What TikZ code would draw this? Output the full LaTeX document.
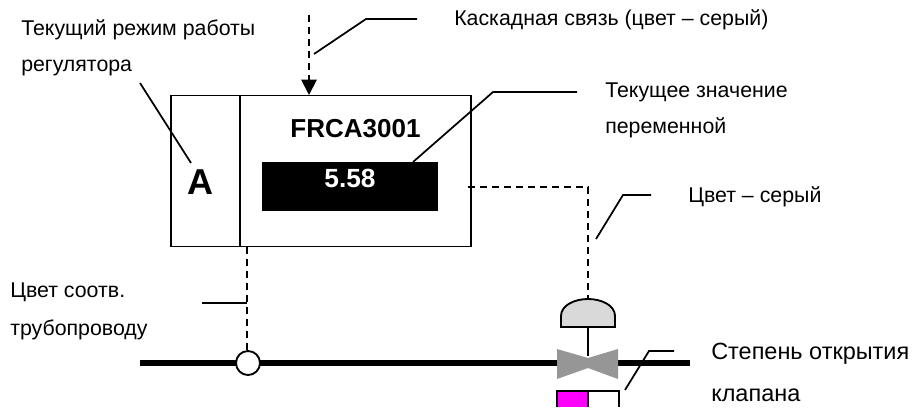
\documentclass[tikz,border=0pt]{standalone}
\usepackage{fontspec}
\setmainfont{Liberation Sans}
\usetikzlibrary{arrows.meta}
\definecolor{puremag}{RGB}{255,0,255}
\definecolor{domegrey}{RGB}{217,217,217}
\definecolor{valvegrey}{RGB}{150,150,150}
\tikzset{
  lbl/.style={inner sep=0pt,anchor=base west,font=\fontsize{16}{18}\selectfont,text=black},
  lblbig/.style={inner sep=0pt,anchor=base west,font=\fontsize{17.6}{20}\selectfont,text=black},
  leader/.style={draw=black,line width=1.3pt},
  dashline/.style={draw=black,line width=1.4pt,dash pattern=on 5pt off 4pt},
  frame/.style={draw=black,line width=1.4pt},
}
\begin{document}
\begin{tikzpicture}[x=0.75pt,y=-0.75pt]
\useasboundingbox (0,0) rectangle (916,407);
% pipe
\coordinate (pipeL) at (140,363);
\coordinate (pipeR) at (690,363);
\draw[line width=5.2pt] (pipeL) -- (pipeR);
% controller box
\node[frame,minimum width=225pt,minimum height=113.25pt,inner sep=0pt] (box) at (321,171) {};
\coordinate (divT) at (240,95.5); \coordinate (divB) at (240,246.5);
\draw[frame] (divT) -- (divB);
\node[fill=black,minimum width=132pt,minimum height=36.5pt,inner sep=0pt] (val) at (350,186.5) {};
\node[inner sep=0pt,text=white,font=\bfseries\fontsize{19.7}{22}\selectfont,anchor=base] (valtxt) at (350,187.5) {5.58};
\node[inner sep=0pt,font=\bfseries\fontsize{19.5}{22}\selectfont,anchor=base] (tag) at (355.5,137) {FRCA3001};
\node[inner sep=0pt,font=\bfseries\fontsize{27}{30}\selectfont,anchor=base] (modeA) at (200,194) {A};
% cascade
\coordinate (casTop) at (309,15);
\coordinate (casEnd) at (309,95);
\draw[dashline,-{Triangle[length=11.5pt,width=11.5pt]}] (casTop) -- (casEnd);
% process connection
\node[circle,draw=black,fill=white,line width=1.4pt,minimum size=18pt,inner sep=0pt] (tap) at (248,363) {};
\coordinate (tapTop) at (247,247);
\draw[dashline] (tapTop) -- (tap.north -| tapTop);
% actuator
\coordinate (outS) at (468,187);
\coordinate (outC) at (588,187);
\coordinate (domeTop) at (588,299);
\draw[dashline] (outS) -- (outC) -- (domeTop);
\draw[frame,fill=domegrey] (561,327) -- (561,316) .. controls (561,305) and (575,299) .. (588,299) .. controls (601,299) and (615,305) .. (615,316) -- (615,327) -- cycle;
\coordinate (stemT) at (588,327); \coordinate (stemB) at (588,356);
\draw[frame] (stemT) -- (stemB);
\fill[valvegrey] (557,349) -- (588,358) -- (618,349) -- (618,379) -- (588,368) -- (557,379) -- cycle;
% position bar
\fill[puremag] (557,391) rectangle (588,407);
\coordinate (pA) at (557,407); \coordinate (pB) at (557,391); \coordinate (pC) at (619,391); \coordinate (pD) at (619,407); \coordinate (pE) at (588,391); \coordinate (pF) at (588,407);
\draw[frame] (pA) -- (pB) -- (pC) -- (pD);
\draw[frame] (pE) -- (pF);
% labels
\node[lbl] (l1) at (21,35) {Текущий режим работы};
\node[lbl] (l1b) at (21,71) {регулятора};
\node[lbl] (l2) at (454,26) {Каскадная связь (цвет – серый)};
\node[lbl] (l3) at (605,97) {Текущее значение};
\node[lbl] (l3b) at (605,133) {переменной};
\node[lbl] (l4) at (688,202) {Цвет – серый};
\node[lbl] (l5) at (10,297) {Цвет соотв.};
\node[lbl] (l5b) at (10,335) {трубопроводу};
\node[lblbig] (l6) at (711,359) {Степень открытия};
\node[lblbig] (l6b) at (711,401) {клапана};
% leaders
\coordinate (a1) at (140,83); \coordinate (a2) at (191,163);
\draw[leader] (a1) -- (a2);
\coordinate (b1) at (314,54); \coordinate (b2) at (366,19); \coordinate (b3) at (417,19);
\draw[leader] (b1) -- (b2) -- (b3);
\coordinate (c1) at (413,162); \coordinate (c2) at (493,92); \coordinate (c3) at (577,92);
\draw[leader] (c1) -- (c2) -- (c3);
\coordinate (d1) at (596,239); \coordinate (d2) at (623,195); \coordinate (d3) at (651,195);
\draw[leader] (d1) -- (d2) -- (d3);
\coordinate (e1) at (202,303); \coordinate (e2) at (247,303);
\draw[leader] (e1) -- (e2);
\coordinate (f1) at (625,390); \coordinate (f2) at (649,351); \coordinate (f3) at (674,351);
\draw[leader] (f1) -- (f2) -- (f3);
\end{tikzpicture}
\end{document}
